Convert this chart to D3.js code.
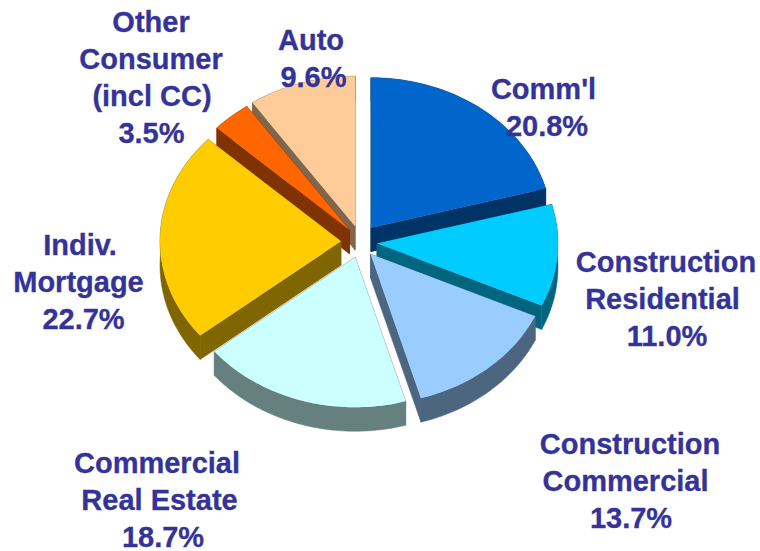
<!DOCTYPE html>
<html>
<head>
<meta charset="utf-8">
<script src="https://cdn.jsdelivr.net/npm/d3@7"></script>
<style>
  html, body { margin: 0; padding: 0; background: #fff; }
  svg { display: block; }
  text { font-family: "Liberation Sans", Arial, sans-serif; font-weight: bold; fill: #333399; stroke: #333399; stroke-width: 0.3px; }
</style>
</head>
<body>
<div id="container"></div>
<script>
var width = 760,
    height = 551;

// chart data, clockwise from 12 o'clock
var categories = [
  ["Comm'l"],
  ["Construction", "Residential"],
  ["Construction", "Commercial"],
  ["Commercial", "Real Estate"],
  ["Indiv.", "Mortgage"],
  ["Other", "Consumer", "(incl CC)"],
  ["Auto"]
];
var shares = [20.8, 11.0, 13.7, 18.7, 22.7, 3.5, 9.6];
var sliceColors = ["#0066CC", "#00CCFF", "#99CCFF", "#CCFFFF", "#FFCC00", "#FF6600", "#FFCC99"];

// layout, kept apart from the data
var cx = 360, cy = 242,
    rx = 181, ry = 150,
    depth = 24,
    lineGap = 37,
    fontSize = 29;

// how far each slice is pulled out of the pie
var explode = [18, 17, 16, 16, 19, 16, 16.5];
// centre x of each label line (the value line is last), and first baseline y
var labelX = [
  [543.5, 547],
  [666, 662.5, 667],
  [630, 625.5, 631],
  [157, 159.5, 163],
  [80, 78.5, 83.5],
  [151, 151, 152, 151.5],
  [311, 313.5]
];
var labelY = [99, 271.5, 454, 473, 255, 32, 50];
// slices are painted back to front so the near ones cover the walls behind them
var paintOrder = [0, 1, 2, 6, 5, 4, 3];

var svg = d3.select("#container")
  .append("svg")
  .attr("width", width)
  .attr("height", height);

var pie = d3.pie().sort(null).value(function(d) { return d; });
var arcs = pie(shares);

var line = d3.line();

function arcPoints(d, ox, oy) {
  var n = Math.max(2, Math.ceil((d.endAngle - d.startAngle) / 0.02));
  return d3.range(n + 1).map(function(i) {
    var a = d.startAngle + (d.endAngle - d.startAngle) * i / n;
    return [ox + rx * Math.sin(a), oy - ry * Math.cos(a)];
  });
}

function shift(pts) {
  return pts.map(function(p) { return [p[0], p[1] + depth]; });
}

paintOrder.forEach(function(i) {
  var d = arcs[i];
  var mid = (d.startAngle + d.endAngle) / 2;
  var ox = cx + explode[i] * Math.sin(mid),
      oy = cy - explode[i] * Math.cos(mid);
  var rim = arcPoints(d, ox, oy);
  var apex = [ox, oy];
  var first = rim[0], last = rim[rim.length - 1];
  var wallColor = d3.interpolateRgb(sliceColors[i], "#000")(0.5);
  var g = svg.append("g").attr("class", "slice");

  var walls = [
    [apex, first, [first[0], first[1] + depth], [ox, oy + depth]],
    [apex, last, [last[0], last[1] + depth], [ox, oy + depth]],
    rim.concat(shift(rim).reverse())
  ];
  g.selectAll("path.wall")
    .data(walls)
    .enter().append("path")
    .attr("class", "wall")
    .attr("d", function(w) { return line(w) + "Z"; })
    .style("fill", wallColor)
    .style("stroke", wallColor)
    .style("stroke-width", 0.5);

  g.append("path")
    .attr("class", "top")
    .attr("d", line([apex].concat(rim)) + "Z")
    .style("fill", sliceColors[i]);
});

// labels
var labels = svg.selectAll("text.label")
  .data(categories)
  .enter().append("text")
  .attr("class", "label")
  .attr("text-anchor", "middle")
  .style("font-size", fontSize + "px");

labels.each(function(lines, i) {
  var rows = lines.concat(d3.format(".1f")(shares[i]) + "%");
  d3.select(this).selectAll("tspan")
    .data(rows)
    .enter().append("tspan")
    .attr("x", function(r, j) { return labelX[i][j]; })
    .attr("y", function(r, j) { return labelY[i] + j * lineGap; })
    .text(function(r) { return r; });
});
</script>
</body>
</html>
